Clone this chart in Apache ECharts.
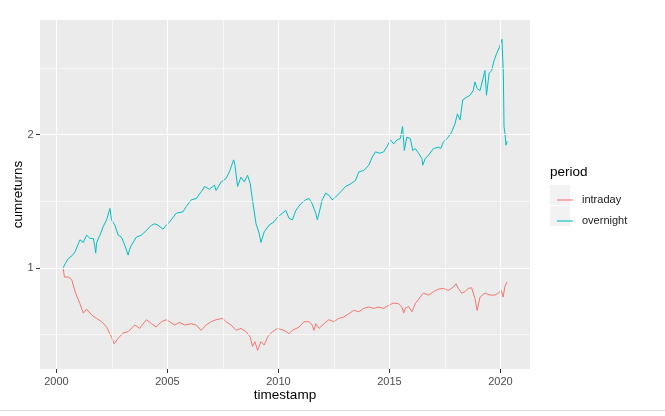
<!DOCTYPE html>
<html>
<head>
<meta charset="utf-8">
<script src="https://cdn.jsdelivr.net/npm/echarts@6/dist/echarts.min.js"></script>
<style>
html,body{margin:0;padding:0;background:#fff;}
#chart{width:665px;height:416px;}
</style>
</head>
<body>
<div id="chart"></div>
<script>
// ---- data (decimal years, cumulative returns) ----
const xTicks = [2000, 2005, 2010, 2015, 2020];
const yTicks = [1, 2];
const xMinorTicks = [2002.5, 2007.5, 2012.5, 2017.5];
const yMinorTicks = [0.5, 1.5, 2.5];

const overnightYears = [2000.31,2000.39,2000.54,2000.70,2000.84,2001.06,2001.21,2001.36,2001.51,2001.66,2001.72,2001.77,2001.81,2001.96,2002.11,2002.26,2002.41,2002.48,2002.63,2002.78,2002.93,2003.08,2003.23,2003.30,2003.38,2003.60,2003.83,2004.05,2004.28,2004.43,2004.57,2004.80,2004.95,2005.10,2005.40,2005.70,2005.85,2006.07,2006.30,2006.52,2006.67,2006.89,2007.12,2007.19,2007.42,2007.64,2007.79,2007.98,2008.04,2008.16,2008.31,2008.46,2008.61,2008.73,2008.83,2008.99,2009.13,2009.21,2009.36,2009.58,2009.80,2009.96,2010.18,2010.33,2010.48,2010.63,2010.78,2011.00,2011.23,2011.38,2011.52,2011.68,2011.75,2011.83,2011.97,2012.13,2012.27,2012.42,2012.57,2012.80,2013.02,2013.25,2013.47,2013.62,2013.84,2014.07,2014.22,2014.37,2014.56,2014.74,2014.89,2015.04,2015.19,2015.34,2015.49,2015.59,2015.67,2015.78,2015.94,2016.05,2016.16,2016.31,2016.46,2016.50,2016.61,2016.76,2016.98,2017.21,2017.31,2017.43,2017.65,2017.80,2017.95,2018.06,2018.18,2018.30,2018.48,2018.63,2018.77,2018.85,2018.95,2019.08,2019.30,2019.37,2019.49,2019.60,2019.71,2019.83,2019.95,2020.07,2020.10,2020.13,2020.16,2020.20,2020.25,2020.30];
const overnightValues = [1.00,1.03,1.07,1.09,1.12,1.21,1.19,1.245,1.22,1.22,1.17,1.11,1.19,1.245,1.31,1.36,1.445,1.36,1.32,1.245,1.23,1.17,1.095,1.14,1.17,1.23,1.245,1.28,1.32,1.33,1.32,1.29,1.32,1.345,1.41,1.42,1.46,1.51,1.52,1.57,1.61,1.59,1.62,1.58,1.645,1.67,1.72,1.81,1.77,1.61,1.68,1.645,1.695,1.63,1.51,1.33,1.26,1.19,1.27,1.32,1.345,1.38,1.41,1.43,1.37,1.36,1.43,1.48,1.51,1.52,1.48,1.41,1.36,1.41,1.51,1.56,1.545,1.51,1.53,1.57,1.61,1.63,1.655,1.72,1.73,1.77,1.83,1.87,1.86,1.87,1.91,1.96,1.93,1.96,1.97,2.06,1.88,1.98,1.97,1.88,1.895,1.86,1.82,1.77,1.82,1.845,1.895,1.905,1.895,1.945,1.98,2.02,2.08,2.155,2.11,2.26,2.28,2.295,2.33,2.395,2.345,2.33,2.48,2.295,2.46,2.48,2.555,2.61,2.655,2.715,2.58,2.46,2.06,2.01,1.92,1.95];

const intradayYears = [2000.31,2000.36,2000.54,2000.69,2000.84,2001.06,2001.21,2001.36,2001.59,2001.81,2002.04,2002.26,2002.48,2002.60,2002.78,2003.00,2003.23,2003.53,2003.75,2004.05,2004.28,2004.50,2004.73,2004.95,2005.10,2005.32,2005.55,2005.77,2006.07,2006.30,2006.52,2006.74,2006.97,2007.19,2007.49,2007.64,2007.87,2008.09,2008.31,2008.54,2008.73,2008.83,2008.94,2009.06,2009.21,2009.36,2009.51,2009.73,2009.96,2010.25,2010.48,2010.63,2010.93,2011.15,2011.38,2011.52,2011.60,2011.68,2011.83,2012.05,2012.27,2012.50,2012.72,2012.94,2013.17,2013.39,2013.62,2013.84,2014.07,2014.30,2014.52,2014.74,2014.97,2015.19,2015.41,2015.56,2015.64,2015.71,2015.86,2016.01,2016.16,2016.39,2016.53,2016.76,2016.98,2017.21,2017.43,2017.65,2017.88,2018.00,2018.10,2018.25,2018.40,2018.55,2018.70,2018.85,2018.95,2019.08,2019.30,2019.52,2019.75,2019.90,2020.04,2020.12,2020.20,2020.30];
const intradayValues = [0.99,0.93,0.93,0.91,0.82,0.73,0.66,0.69,0.645,0.62,0.595,0.555,0.48,0.43,0.47,0.51,0.52,0.57,0.545,0.61,0.58,0.555,0.595,0.61,0.595,0.57,0.59,0.57,0.58,0.57,0.53,0.57,0.595,0.61,0.62,0.595,0.57,0.53,0.545,0.52,0.48,0.41,0.445,0.38,0.445,0.42,0.48,0.52,0.545,0.53,0.505,0.53,0.555,0.595,0.595,0.57,0.53,0.58,0.545,0.58,0.61,0.595,0.62,0.63,0.655,0.68,0.67,0.695,0.705,0.695,0.705,0.695,0.72,0.735,0.73,0.705,0.66,0.695,0.71,0.67,0.73,0.78,0.81,0.795,0.82,0.84,0.845,0.83,0.855,0.88,0.845,0.81,0.82,0.845,0.85,0.77,0.68,0.78,0.81,0.795,0.795,0.81,0.83,0.78,0.86,0.895];

const zip = (xs, ys) => xs.map((x, i) => [x, ys[i]]);
const FONT = "'Liberation Sans', Arial, sans-serif";

const majorLines = xTicks.map(v => ({xAxis: v})).concat(yTicks.map(v => ({yAxis: v})));
const minorLines = xMinorTicks.map(v => ({xAxis: v})).concat(yMinorTicks.map(v => ({yAxis: v})));

const chart = echarts.init(document.getElementById('chart'), null, {renderer: 'canvas'});
chart.setOption({
  animation: false,
  backgroundColor: '#ffffff',
  textStyle: {fontFamily: FONT},
  grid: {left: 40, right: 135, top: 20, bottom: 47, show: true, backgroundColor: '#EBEBEB', borderWidth: 0,
         containLabel: false, outerBoundsMode: 'none'},
  xAxis: {
    type: 'value', min: 1999.26, max: 2021.33,
    name: 'timestamp', nameLocation: 'middle', nameGap: 19, nameMoveOverlap: false,
    nameTextStyle: {fontSize: 13.5, color: '#000', fontFamily: FONT},
    axisLine: {show: false},
    axisTick: {show: true, length: 4, customValues: xTicks, lineStyle: {color: '#333333', width: 1}},
    axisLabel: {customValues: xTicks, margin: 7, fontSize: 11, color: '#4D4D4D', fontFamily: FONT, formatter: v => String(v)},
    splitLine: {show: false}
  },
  yAxis: {
    type: 'value', min: 0.24, max: 2.86,
    name: 'cumreturns', nameLocation: 'middle', nameGap: 15, nameMoveOverlap: false,
    nameTextStyle: {fontSize: 13.5, color: '#000', fontFamily: FONT},
    axisLine: {show: false},
    axisTick: {show: true, length: 4, customValues: yTicks, lineStyle: {color: '#333333', width: 1}},
    axisLabel: {customValues: yTicks, margin: 6.5, fontSize: 11, color: '#4D4D4D', fontFamily: FONT, formatter: v => String(v)},
    splitLine: {show: false}
  },
  legend: {
    data: ['intraday', 'overnight'],
    orient: 'vertical', left: 550, top: 185,
    itemWidth: 20, itemHeight: 20, itemGap: 1,
    icon: 'path://M0,0L0,0M2,9.45L18,9.45L18,10.55L2,10.55ZM20,20L20,20',
    itemStyle: {borderWidth: 0},
    textStyle: {fontSize: 11, color: '#1a1a1a', fontFamily: FONT, padding: [0, 0, 0, 2]},
    selectedMode: false
  },
  graphic: [
    {type: 'rect', left: 550, top: 185, z: -1, shape: {width: 20, height: 20}, style: {fill: '#F2F2F2'}},
    {type: 'rect', left: 550, top: 206, z: -1, shape: {width: 20, height: 20}, style: {fill: '#F2F2F2'}},
    {type: 'text', left: 550, top: 165, style: {text: 'period', fontSize: 13.5, fill: '#000', fontFamily: FONT}},
    {type: 'line', shape: {x1: 0, y1: 410.5, x2: 665, y2: 410.5}, style: {stroke: '#DADADA', lineWidth: 1}}
  ],
  series: [
    {
      name: 'minor-grid', type: 'line', data: [[2000, 1]], showSymbol: false, silent: true,
      lineStyle: {opacity: 0}, z: 1,
      markLine: {
        silent: true, symbol: 'none', label: {show: false}, animation: false,
        lineStyle: {color: '#ffffff', width: 0.6, type: 'solid'},
        data: minorLines
      }
    },
    {
      name: 'major-grid', type: 'line', data: [[2000, 1]], showSymbol: false, silent: true,
      lineStyle: {opacity: 0}, z: 1,
      markLine: {
        silent: true, symbol: 'none', label: {show: false}, animation: false,
        lineStyle: {color: '#ffffff', width: 1.1, type: 'solid'},
        data: majorLines
      }
    },
    {name: 'intraday', type: 'line', data: zip(intradayYears, intradayValues), showSymbol: false, z: 3,
     color: '#F8766D', lineStyle: {width: 1, color: '#F8766D'}},
    {name: 'overnight', type: 'line', data: zip(overnightYears, overnightValues), showSymbol: false, z: 3,
     color: '#00BFC4', lineStyle: {width: 1, color: '#00BFC4'}}
  ]
});
</script>
</body>
</html>
